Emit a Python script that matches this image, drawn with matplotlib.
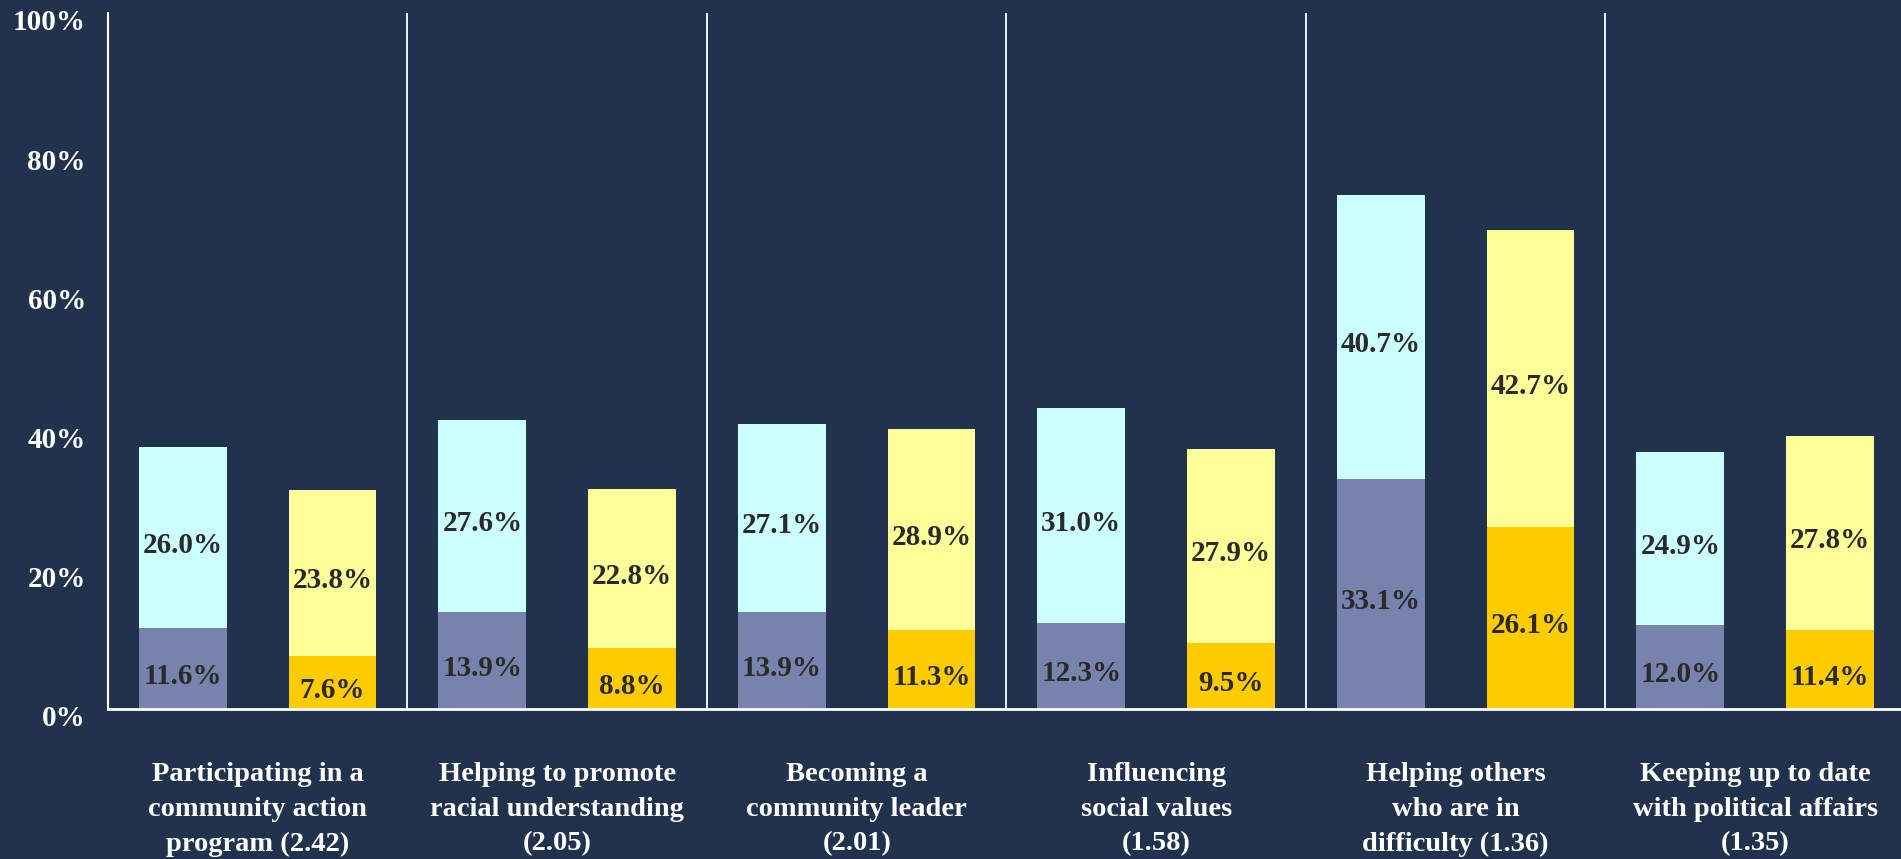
import matplotlib
matplotlib.use("Agg")
import matplotlib.pyplot as plt
import matplotlib.transforms as mtransforms
import numpy as np

categories = [
    "Participating in a\ncommunity action\nprogram (2.42)",
    "Helping to promote\nracial understanding\n(2.05)",
    "Becoming a\ncommunity leader\n(2.01)",
    "Influencing\nsocial values\n(1.58)",
    "Helping others\nwho are in\ndifficulty (1.36)",
    "Keeping up to date\nwith political affairs\n(1.35)",
]

# first bar of each pair (blue): bottom and top segment
blue_bottom = [11.6, 13.9, 13.9, 12.3, 33.1, 12.0]
blue_top = [26.0, 27.6, 27.1, 31.0, 40.7, 24.9]
# second bar of each pair (yellow)
yellow_bottom = [7.6, 8.8, 11.3, 9.5, 26.1, 11.4]
yellow_top = [23.8, 22.8, 28.9, 27.9, 42.7, 27.8]

yticks = [0, 20, 40, 60, 80, 100]

bg = "#21324D"
c_blue_dark = "#7782AD"
c_blue_light = "#CCFFFF"
c_gold = "#FFCC00"
c_yellow = "#FFFF99"
txt_dark = "#2A2A2A"

plt.rcParams["font.family"] = ["Liberation Serif", "DejaVu Serif"]

fig = plt.figure(figsize=(19.01, 8.59), dpi=100, facecolor=bg)
ax = fig.add_axes([0.0568, 0.1746, 0.9453, 0.8103])
ax.set_facecolor(bg)

n = len(categories)
x = np.arange(n)
w = 0.293
xb = x + 0.25
xy = x + 0.75

ax.bar(xb, blue_bottom, w, color=c_blue_dark, zorder=2)
ax.bar(xb, blue_top, w, bottom=blue_bottom, color=c_blue_light, zorder=2)
ax.bar(xy, yellow_bottom, w, color=c_gold, zorder=2)
ax.bar(xy, yellow_top, w, bottom=yellow_bottom, color=c_yellow, zorder=2)

lab = dict(ha="center", va="center", fontsize=21, fontweight="bold", color=txt_dark, zorder=3)
off = 1.1
for i in range(n):
    ax.text(xb[i], blue_bottom[i] / 2 - off, f"{blue_bottom[i]:.1f}%", **lab)
    ax.text(xb[i], blue_bottom[i] + blue_top[i] / 2 - off, f"{blue_top[i]:.1f}%", **lab)
    ax.text(xy[i], yellow_bottom[i] / 2 - off, f"{yellow_bottom[i]:.1f}%", **lab)
    ax.text(xy[i], yellow_bottom[i] + yellow_top[i] / 2 - off, f"{yellow_top[i]:.1f}%", **lab)

# group separators
for k in range(1, n):
    ax.axvline(k, color="white", lw=1.3, zorder=1)

ax.set_xlim(0, n)
ax.set_ylim(0, 100)
ax.set_yticks(yticks)
ax.set_yticklabels([f"{v}%" for v in yticks], fontsize=21, fontweight="bold", color="white")
ax.set_xticks(x + 0.5)
ax.set_xticklabels(categories, fontsize=20.5, fontweight="bold", color="white", linespacing=1.52)
ax.tick_params(axis="y", length=0, pad=16)
ax.tick_params(axis="x", length=0, pad=38)

# nudge y labels down a little
shift = mtransforms.ScaledTranslation(0, -5 / 72, fig.dpi_scale_trans)
for t in ax.get_yticklabels():
    t.set_transform(t.get_transform() + shift)

for s in ["top", "right"]:
    ax.spines[s].set_visible(False)
ax.spines["left"].set_color("white")
ax.spines["left"].set_linewidth(1.5)
ax.spines["bottom"].set_color("white")
ax.spines["bottom"].set_linewidth(2)

fig.savefig("out.png", dpi=100, facecolor=bg)
